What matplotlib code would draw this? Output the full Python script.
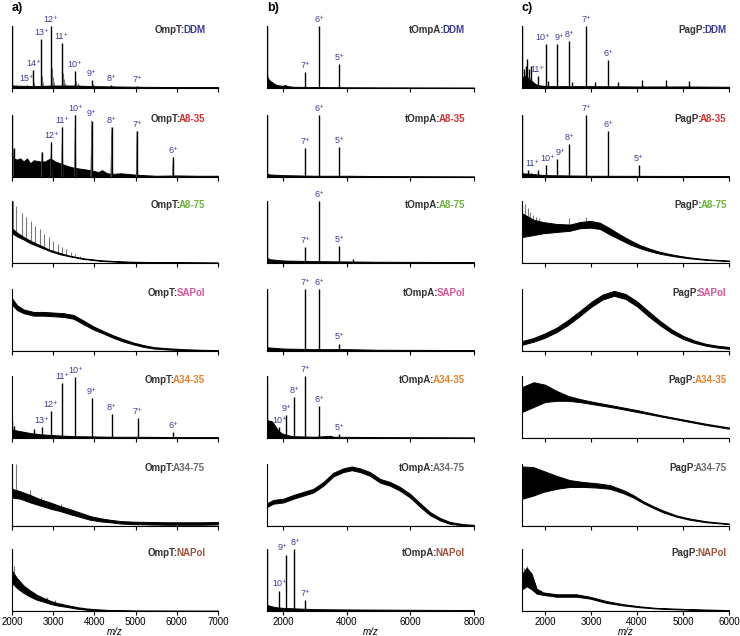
import numpy as np
import matplotlib
matplotlib.use("Agg")
import matplotlib.pyplot as plt

plt.rcParams['font.family'] = ['Liberation Sans', 'DejaVu Sans']

# ---------------- Daten (m/z, relative Intensitaet 0..1) ----------------

# Spalte a) OmpT, x: 2000-7000
ompt_ddm_noise_mz = [2000, 2500, 3000, 3500, 4000, 5000, 6000, 7000]
ompt_ddm_noise_hi = [0.04, 0.03, 0.04, 0.04, 0.03, 0.02, 0.015, 0.015]
ompt_ddm_peak_mz = [2000, 2358, 2517, 2711, 2946, 3204, 3529, 3932, 4410, 5033]
ompt_ddm_peak_h = [1.0, 0.05, 0.29, 0.79, 1.0, 0.73, 0.28, 0.13, 0.05, 0.03]
ompt_ddm_charge = [None, 15, 14, 13, 12, 11, 10, 9, 8, 7]
ompt_ddm_adduct_mz = [2540, 2735, 2760, 2975, 3000, 3030, 3230, 3260, 3290,
                      3555, 3590, 3630, 3965, 4000, 4040, 4450]
ompt_ddm_adduct_h = [0.1, 0.2, 0.1, 0.32, 0.18, 0.1, 0.25, 0.15, 0.08,
                     0.12, 0.08, 0.05, 0.07, 0.05, 0.04, 0.03]

ompt_a835_noise_mz = [2000, 2040, 2121, 2201, 2282, 2363, 2444, 2525, 2687, 2800,
                      2929, 3050, 3172, 3334, 3496, 3700, 3900, 4100, 4184, 4305,
                      4467, 4629, 4800, 4953, 5196, 5500, 6000, 6500, 7000]
ompt_a835_noise_hi = [0.35, 0.3, 0.28, 0.3, 0.25, 0.3, 0.22, 0.27, 0.25, 0.25,
                      0.3, 0.25, 0.22, 0.18, 0.15, 0.13, 0.11, 0.08, 0.11, 0.06,
                      0.05, 0.06, 0.05, 0.04, 0.03, 0.02, 0.025, 0.02, 0.02]
ompt_a835_peak_mz = [2000, 2040, 2727, 2954, 3221, 3536, 3932, 4418, 5033, 5912]
ompt_a835_peak_h = [1.0, 0.46, 0.4, 0.56, 0.8, 1.0, 0.91, 0.8, 0.74, 0.32]
ompt_a835_charge = [None, None, None, 12, 11, 10, 9, 8, 7, 6]

ompt_a875_mz = [2000, 2121, 2282, 2444, 2687, 2929, 3172, 3415, 3739, 4143, 4548, 4953, 5762, 7000]
ompt_a875_hi = [0.56, 0.49, 0.42, 0.36, 0.285, 0.21, 0.16, 0.115, 0.075, 0.045, 0.03, 0.02, 0.013, 0.008]
ompt_a875_lo = [0.48, 0.43, 0.38, 0.32, 0.255, 0.19, 0.14, 0.105, 0.065, 0.035, 0.02, 0.01, 0.005, 0.002]
ompt_a875_spike_mz = [2015, 2096, 2242, 2347, 2460, 2565, 2671, 2784, 2889, 2994,
                      3107, 3213, 3318, 3431, 3536, 3650]
ompt_a875_spike_h = [1.0, 0.92, 0.8, 0.74, 0.67, 0.6, 0.55, 0.47, 0.42, 0.36,
                     0.3, 0.26, 0.22, 0.18, 0.14, 0.11]

ompt_sapol_mz = [2000, 2121, 2282, 2525, 2767, 3010, 3253, 3496, 3739, 3981,
                 4224, 4467, 4710, 4953, 5196, 5438, 5762, 6166, 6571, 7000]
ompt_sapol_hi = [0.85, 0.74, 0.67, 0.63, 0.63, 0.62, 0.61, 0.58, 0.49, 0.395,
                 0.32, 0.25, 0.19, 0.135, 0.095, 0.063, 0.045, 0.03, 0.02, 0.015]
ompt_sapol_lo = [0.75, 0.66, 0.61, 0.57, 0.57, 0.56, 0.55, 0.52, 0.43, 0.345,
                 0.28, 0.21, 0.15, 0.105, 0.065, 0.04, 0.025, 0.012, 0.006, 0.003]

ompt_a3435_noise_mz = [2000, 2121, 2282, 2444, 2687, 2929, 3172, 3500, 4000, 4500, 5000, 6000, 7000]
ompt_a3435_noise_hi = [0.14, 0.12, 0.1, 0.08, 0.06, 0.05, 0.04, 0.03, 0.025, 0.02, 0.02, 0.015, 0.015]
ompt_a3435_peak_mz = [2000, 2050, 2525, 2719, 2946, 3213, 3536, 3932, 4426, 5049, 5907]
ompt_a3435_peak_h = [0.27, 0.2, 0.14, 0.17, 0.44, 0.88, 0.99, 0.65, 0.38, 0.32, 0.1]
ompt_a3435_charge = [None, None, None, 13, 12, 11, 10, 9, 8, 7, 6]

ompt_a3475_mz = [2000, 2201, 2444, 2687, 2929, 3172, 3415, 3658, 3900, 4143,
                 4386, 4629, 4953, 5357, 5762, 6166, 6571, 7000]
ompt_a3475_hi = [0.6, 0.56, 0.5, 0.43, 0.38, 0.32, 0.27, 0.215, 0.16, 0.125,
                 0.1, 0.08, 0.07, 0.065, 0.06, 0.06, 0.06, 0.065]
ompt_a3475_lo = [0.46, 0.44, 0.38, 0.33, 0.28, 0.24, 0.19, 0.145, 0.1, 0.075,
                 0.06, 0.04, 0.03, 0.025, 0.02, 0.02, 0.02, 0.025]
ompt_a3475_spike_mz = [2010, 2089, 2444, 2700, 3200]
ompt_a3475_spike_h = [1.0, 1.0, 0.58, 0.47, 0.36]

ompt_napol_mz = [2000, 2121, 2282, 2444, 2606, 2767, 2929, 3091, 3334, 3577, 3820, 4062, 4386, 4953, 7000]
ompt_napol_hi = [0.65, 0.53, 0.41, 0.33, 0.26, 0.21, 0.165, 0.13, 0.095, 0.062, 0.04, 0.028, 0.015, 0.009, 0.006]
ompt_napol_lo = [0.45, 0.37, 0.29, 0.23, 0.18, 0.15, 0.115, 0.09, 0.065, 0.038, 0.02, 0.012, 0.005, 0.001, 0.0]
ompt_napol_spike_mz = [2005, 2040, 2849, 3035, 3213, 3374, 3536, 3698, 3860]
ompt_napol_spike_h = [1.0, 0.72, 0.22, 0.17, 0.13, 0.1, 0.08, 0.06, 0.045]

# Spalte b) tOmpA, x: 1500-8000
tompa_ddm_noise_mz = [1500, 1535, 1588, 1693, 1797, 1900, 2007, 2059, 2150, 2321, 3054, 4000, 5148, 8000]
tompa_ddm_noise_hi = [0.2, 0.15, 0.12, 0.08, 0.05, 0.04, 0.035, 0.05, 0.03, 0.02, 0.015, 0.012, 0.01, 0.008]
tompa_ddm_peak_mz = [1500, 2693, 3143, 3771]
tompa_ddm_peak_h = [1.0, 0.26, 1.0, 0.38]
tompa_ddm_charge = [None, 7, 6, 5]

tompa_a835_noise_mz = [1500, 1600, 2000, 3000, 4000, 5000, 8000]
tompa_a835_noise_hi = [0.05, 0.04, 0.03, 0.02, 0.02, 0.015, 0.01]
tompa_a835_peak_mz = [1500, 2693, 3143, 3771]
tompa_a835_peak_h = [1.0, 0.46, 1.0, 0.48]
tompa_a835_charge = [None, 7, 6, 5]

tompa_a875_noise_mz = [1500, 1600, 1800, 2000, 3000, 4000, 5000, 8000]
tompa_a875_noise_hi = [0.08, 0.06, 0.05, 0.04, 0.03, 0.025, 0.02, 0.015]
tompa_a875_peak_mz = [1500, 2007, 2693, 3143, 3771, 4185]
tompa_a875_peak_h = [1.0, 0.05, 0.26, 1.0, 0.28, 0.06]
tompa_a875_charge = [None, None, 7, 6, 5, None]

tompa_sapol_noise_mz = [1500, 2000, 3000, 4000, 5000, 8000]
tompa_sapol_noise_hi = [0.06, 0.04, 0.03, 0.03, 0.02, 0.015]
tompa_sapol_peak_mz = [1500, 2693, 3143, 3771]
tompa_sapol_peak_h = [1.0, 1.0, 1.0, 0.12]
tompa_sapol_charge = [None, 7, 6, 5]

tompa_a3435_noise_mz = [1500, 1550, 1650, 1750, 1850, 1950, 2100, 2300, 3000, 3473, 3600, 5000, 8000]
tompa_a3435_noise_hi = [0.3, 0.28, 0.27, 0.2, 0.12, 0.08, 0.05, 0.03, 0.02, 0.035, 0.02, 0.015, 0.01]
tompa_a3435_peak_mz = [1500, 1887, 2097, 2357, 2693, 3133, 3771]
tompa_a3435_peak_h = [1.0, 0.17, 0.37, 0.66, 1.0, 0.51, 0.06]
tompa_a3435_charge = [None, 10, 9, 8, 7, 6, 5]

tompa_a3475_mz = [1510, 1699, 2013, 2327, 2641, 2955, 3269, 3583, 3897, 4160, 4420,
                  4734, 5048, 5362, 5676, 5990, 6304, 6618, 6932, 7246, 7664, 8000]
tompa_a3475_hi = [0.37, 0.42, 0.44, 0.5, 0.55, 0.6, 0.71, 0.86, 0.93, 0.96, 0.93,
                  0.87, 0.76, 0.71, 0.63, 0.52, 0.37, 0.225, 0.13, 0.065, 0.03, 0.018]
tompa_a3475_lo = [0.31, 0.36, 0.38, 0.44, 0.49, 0.54, 0.65, 0.8, 0.87, 0.9, 0.87,
                  0.81, 0.7, 0.65, 0.57, 0.46, 0.31, 0.175, 0.09, 0.035, 0.01, 0.004]

tompa_napol_noise_mz = [1500, 1600, 1800, 2000, 2500, 3000, 4000, 6000, 8000]
tompa_napol_noise_hi = [0.1, 0.08, 0.06, 0.05, 0.04, 0.03, 0.025, 0.02, 0.015]
tompa_napol_peak_mz = [1500, 1887, 2097, 2357, 2693]
tompa_napol_peak_h = [1.0, 0.33, 0.91, 1.0, 0.17]
tompa_napol_charge = [None, 10, 9, 8, 7]

# Spalte c) PagP, x: 1500-6000
pagp_ddm_noise_mz = [1500, 1550, 1600, 1700, 1800, 1900, 2100, 3000, 4000, 5000, 6000]
pagp_ddm_noise_hi = [0.15, 0.2, 0.18, 0.12, 0.06, 0.04, 0.03, 0.03, 0.025, 0.025, 0.02]
pagp_ddm_peak_mz = [1500, 1551, 1587, 1616, 1660, 1689, 1841, 2022, 2072, 2254,
                    2529, 2580, 2898, 3094, 3370, 3594, 4116, 4624, 5138]
pagp_ddm_peak_h = [1.0, 0.3, 0.35, 0.46, 0.3, 0.35, 0.2, 0.71, 0.12, 0.71,
                   0.76, 0.1, 1.0, 0.1, 0.45, 0.1, 0.13, 0.13, 0.12]
pagp_ddm_charge = [None, None, None, None, None, None, 11, 10, None, 9,
                   8, None, 7, None, 6, None, None, None, None]

pagp_a835_noise_mz = [1500, 1700, 2000, 3000, 6000]
pagp_a835_noise_hi = [0.06, 0.05, 0.03, 0.02, 0.015]
pagp_a835_peak_mz = [1500, 1630, 1700, 1841, 2022, 2254, 2529, 2898, 3370, 4044]
pagp_a835_peak_h = [1.0, 0.12, 0.07, 0.11, 0.2, 0.29, 0.53, 1.0, 0.74, 0.2]
pagp_a835_charge = [None, None, None, 11, 10, 9, 8, 7, 6, 5]

pagp_a875_mz = [1507, 1743, 1960, 2250, 2540, 2757, 2975, 3192, 3410, 3627,
                3844, 4062, 4279, 4497, 4714, 4931, 5149, 5511, 5873, 6000]
pagp_a875_hi = [0.8, 0.7, 0.66, 0.63, 0.62, 0.66, 0.68, 0.65, 0.56, 0.46,
                0.37, 0.29, 0.23, 0.18, 0.145, 0.115, 0.09, 0.06, 0.045, 0.04]
pagp_a875_lo = [0.42, 0.45, 0.48, 0.5, 0.52, 0.56, 0.57, 0.55, 0.46, 0.38,
                0.3, 0.24, 0.19, 0.15, 0.12, 0.095, 0.075, 0.05, 0.035, 0.03]
pagp_a875_spike_mz = [1507, 1560, 1620, 1680, 1743, 1810, 1880, 2529, 2898]
pagp_a875_spike_h = [1.0, 0.95, 0.88, 0.82, 0.78, 0.75, 0.72, 0.72, 0.74]

pagp_sapol_mz = [1500, 1750, 2000, 2250, 2500, 2750, 3000, 3250, 3500, 3750,
                 4000, 4250, 4500, 4750, 5000, 5250, 5500, 5750, 6000]
pagp_sapol_hi = [0.16, 0.21, 0.285, 0.375, 0.5, 0.64, 0.79, 0.91, 0.97, 0.92,
                 0.8, 0.64, 0.485, 0.35, 0.245, 0.17, 0.115, 0.085, 0.065]
pagp_sapol_lo = [0.1, 0.15, 0.215, 0.305, 0.42, 0.56, 0.71, 0.83, 0.89, 0.84,
                 0.72, 0.56, 0.415, 0.29, 0.195, 0.13, 0.085, 0.055, 0.035]

pagp_a3435_mz = [1500, 1750, 2000, 2250, 2500, 2750, 3000, 3500, 4000, 4500, 5000, 5500, 6000]
pagp_a3435_hi = [0.82, 0.9, 0.86, 0.76, 0.68, 0.63, 0.59, 0.52, 0.45, 0.37, 0.3, 0.23, 0.17]
pagp_a3435_lo = [0.42, 0.5, 0.58, 0.6, 0.6, 0.58, 0.55, 0.49, 0.42, 0.35, 0.28, 0.21, 0.15]

pagp_a3475_mz = [1507, 1743, 1960, 2250, 2540, 2830, 3120, 3410, 3700, 3917,
                 4134, 4352, 4569, 4859, 5149, 5511, 6000]
pagp_a3475_hi = [0.96, 0.95, 0.89, 0.81, 0.74, 0.71, 0.69, 0.66, 0.58, 0.5,
                 0.4, 0.32, 0.25, 0.17, 0.12, 0.075, 0.04]
pagp_a3475_lo = [0.44, 0.49, 0.55, 0.6, 0.63, 0.63, 0.62, 0.6, 0.53, 0.46,
                 0.37, 0.29, 0.22, 0.15, 0.1, 0.06, 0.03]

pagp_napol_mz = [1507, 1601, 1710, 1818, 1960, 2250, 2540, 2685, 2975, 3337, 3700, 4062, 4424, 5149, 6000]
pagp_napol_hi = [0.6, 0.7, 0.6, 0.36, 0.3, 0.27, 0.27, 0.27, 0.23, 0.16, 0.11, 0.075, 0.05, 0.03, 0.015]
pagp_napol_lo = [0.35, 0.4, 0.35, 0.28, 0.26, 0.23, 0.23, 0.23, 0.2, 0.13, 0.09, 0.06, 0.04, 0.02, 0.01]
pagp_napol_spike_mz = [1510, 1545, 1600, 1640, 1700]
pagp_napol_spike_h = [0.73, 0.7, 0.72, 0.65, 0.6]

# Achsen / Beschriftungen
proteins = ['OmpT', 'tOmpA', 'PagP']
detergents = ['DDM', 'A8-35', 'A8-75', 'SAPol', 'A34-35', 'A34-75', 'NAPol']
detergent_colors = ['#3b3b98', '#d7302f', '#6cb33f', '#d9539a', '#e4812f', '#6b6b6b', '#a0523a']
col_xlim = [(2000, 7000), (1500, 8000), (1500, 6000)]
col_ticks = [[2000, 3000, 4000, 5000, 6000, 7000],
             [2000, 4000, 6000, 8000],
             [2000, 3000, 4000, 5000, 6000]]
panel_letters = ['a)', 'b)', 'c)']

# Tabelle: (Band-mz, Band-unten, Band-oben, Peak-mz, Peak-h, Ladung, Spike-mz, Spike-h)
spektren = {
    (0, 0): (ompt_ddm_noise_mz, None, ompt_ddm_noise_hi, ompt_ddm_peak_mz, ompt_ddm_peak_h,
             ompt_ddm_charge, ompt_ddm_adduct_mz, ompt_ddm_adduct_h),
    (0, 1): (ompt_a835_noise_mz, None, ompt_a835_noise_hi, ompt_a835_peak_mz, ompt_a835_peak_h,
             ompt_a835_charge, None, None),
    (0, 2): (ompt_a875_mz, ompt_a875_lo, ompt_a875_hi, None, None, None,
             ompt_a875_spike_mz, ompt_a875_spike_h),
    (0, 3): (ompt_sapol_mz, ompt_sapol_lo, ompt_sapol_hi, None, None, None, None, None),
    (0, 4): (ompt_a3435_noise_mz, None, ompt_a3435_noise_hi, ompt_a3435_peak_mz, ompt_a3435_peak_h,
             ompt_a3435_charge, None, None),
    (0, 5): (ompt_a3475_mz, ompt_a3475_lo, ompt_a3475_hi, None, None, None,
             ompt_a3475_spike_mz, ompt_a3475_spike_h),
    (0, 6): (ompt_napol_mz, ompt_napol_lo, ompt_napol_hi, None, None, None,
             ompt_napol_spike_mz, ompt_napol_spike_h),
    (1, 0): (tompa_ddm_noise_mz, None, tompa_ddm_noise_hi, tompa_ddm_peak_mz, tompa_ddm_peak_h,
             tompa_ddm_charge, None, None),
    (1, 1): (tompa_a835_noise_mz, None, tompa_a835_noise_hi, tompa_a835_peak_mz, tompa_a835_peak_h,
             tompa_a835_charge, None, None),
    (1, 2): (tompa_a875_noise_mz, None, tompa_a875_noise_hi, tompa_a875_peak_mz, tompa_a875_peak_h,
             tompa_a875_charge, None, None),
    (1, 3): (tompa_sapol_noise_mz, None, tompa_sapol_noise_hi, tompa_sapol_peak_mz, tompa_sapol_peak_h,
             tompa_sapol_charge, None, None),
    (1, 4): (tompa_a3435_noise_mz, None, tompa_a3435_noise_hi, tompa_a3435_peak_mz, tompa_a3435_peak_h,
             tompa_a3435_charge, None, None),
    (1, 5): (tompa_a3475_mz, tompa_a3475_lo, tompa_a3475_hi, None, None, None, None, None),
    (1, 6): (tompa_napol_noise_mz, None, tompa_napol_noise_hi, tompa_napol_peak_mz, tompa_napol_peak_h,
             tompa_napol_charge, None, None),
    (2, 0): (pagp_ddm_noise_mz, None, pagp_ddm_noise_hi, pagp_ddm_peak_mz, pagp_ddm_peak_h,
             pagp_ddm_charge, None, None),
    (2, 1): (pagp_a835_noise_mz, None, pagp_a835_noise_hi, pagp_a835_peak_mz, pagp_a835_peak_h,
             pagp_a835_charge, None, None),
    (2, 2): (pagp_a875_mz, pagp_a875_lo, pagp_a875_hi, None, None, None,
             pagp_a875_spike_mz, pagp_a875_spike_h),
    (2, 3): (pagp_sapol_mz, pagp_sapol_lo, pagp_sapol_hi, None, None, None, None, None),
    (2, 4): (pagp_a3435_mz, pagp_a3435_lo, pagp_a3435_hi, None, None, None, None, None),
    (2, 5): (pagp_a3475_mz, pagp_a3475_lo, pagp_a3475_hi, None, None, None, None, None),
    (2, 6): (pagp_napol_mz, pagp_napol_lo, pagp_napol_hi, None, None, None,
             pagp_napol_spike_mz, pagp_napol_spike_h),
}

# ---------------- Layout (Pixel der Vorlage) ----------------
W, H = 740, 636
col_left_px = [12, 267, 522]
col_width_px = [206, 207, 207]
row_base_px = [88, 177, 263, 351, 438, 526, 611]
panel_h_px = 62
title_x = [0.937, 0.956, 0.989]
label_color = '#3c3c96'
prefix_color = '#333333'
# kleine Verschiebungen (Punkte) fuer eng stehende Ladungs-Beschriftungen
label_nudge = {(2, 0, 10): -2.5, (2, 0, 9): 2.0, (2, 1, 11): -3.5, (2, 1, 10): 1.0,
               (2, 1, 9): 3.0, (1, 6, 9): -2.5, (1, 6, 8): 1.0}


def draw_peaks(ax, mz, h, color, lw, halfwidth=None, z=2):
    """Zeichnet Peaks als Striche (oder schmale Dreiecke)."""
    for m, hh in zip(mz, h):
        if halfwidth:
            ax.fill([m - halfwidth, m, m + halfwidth], [0, hh, 0], color='#555555',
                    lw=0.3, zorder=z)
        ax.vlines(m, 0, hh, color=color, lw=lw, zorder=z)


fig = plt.figure(figsize=(W / 100, H / 100), dpi=100)

for (col, row), daten in spektren.items():
    band_mz, band_lo, band_hi, pk_mz, pk_h, charges, sp_mz, sp_h = daten
    ax = fig.add_axes([col_left_px[col] / W, 1 - row_base_px[row] / H,
                       col_width_px[col] / W, panel_h_px / H])

    # graue Nebenpeaks / Spikes (unter dem Band)
    if sp_mz is not None:
        draw_peaks(ax, sp_mz, sp_h, '#7a7a7a', 0.8, z=2.0)

    # Untergrund / breites Signal; unterhalb eines schwebenden Bandes weiss
    if band_lo is None:
        ax.fill_between(band_mz, 0, band_hi, color='black', lw=0.7, zorder=2.2)
    else:
        ax.fill_between(band_mz, 0, band_lo, color='white', lw=0, zorder=2.1)
        ax.fill_between(band_mz, band_lo, band_hi, color='black', lw=0.7, zorder=2.2)
        ax.plot([band_mz[0], band_mz[-1]], [0, 0], color='black', lw=0.8, zorder=2.3)

    # Hauptpeaks mit Ladungszustaenden
    if pk_mz is not None:
        hw = 22 if (col, row) == (0, 1) else None
        draw_peaks(ax, pk_mz, pk_h, 'black', 1.0, hw, z=2.3)
        for m, hh, z in zip(pk_mz, pk_h, charges):
            if z is None:
                continue
            dx = label_nudge.get((col, row, z), 0)
            ax.annotate(f'{z}\u207a', xy=(m, hh), xytext=(dx, 1.5), textcoords='offset points',
                        ha='center', va='bottom', fontsize=6.5, color=label_color,
                        annotation_clip=False)

    # Titel: Protein schwarz, Detergens farbig
    t = ax.text(title_x[col], 0.93, detergents[row], transform=ax.transAxes,
                ha='right', va='center', fontsize=7, fontweight='bold',
                color=detergent_colors[row], zorder=3)
    ax.annotate(proteins[col] + ':', xy=(0, 0.5), xycoords=t, xytext=(1.3, 0),
                textcoords='offset points', ha='right', va='center',
                fontsize=7, fontweight='bold', color=prefix_color, zorder=3)

    ax.set_xlim(col_xlim[col])
    ax.set_ylim(0, 1)
    ax.set_xticks(col_ticks[col])
    ax.set_yticks([])
    for s in ['top', 'right']:
        ax.spines[s].set_visible(False)
    ax.spines['left'].set_linewidth(0.8)
    ax.spines['bottom'].set_linewidth(0.8)
    ax.tick_params(axis='x', direction='out', length=3, width=0.8, labelsize=7, pad=1.5)
    if row == 6:
        ax.set_xlabel('m/z', fontstyle='italic', fontsize=7, labelpad=0)
    else:
        ax.tick_params(axis='x', labelbottom=False)

for col in range(3):
    fig.text(col_left_px[col] / W, 1 - 8 / H, panel_letters[col], ha='left', va='center',
             fontsize=9, fontweight='bold')

fig.savefig('out.png', dpi=100)
